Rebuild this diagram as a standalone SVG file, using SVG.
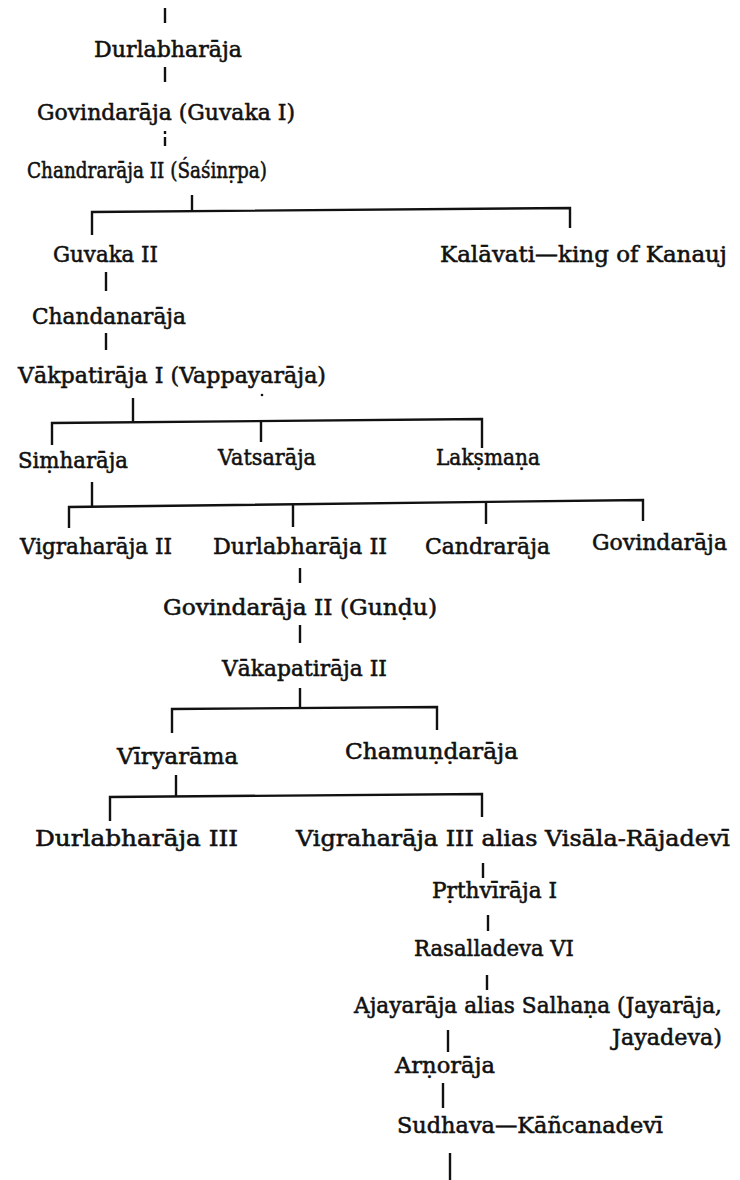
<svg xmlns="http://www.w3.org/2000/svg" width="740" height="1180" viewBox="0 0 740 1180">
  <style>
    .bg { fill: #ffffff; }
    .lbl { font-family: "DejaVu Serif", "Liberation Serif", serif; font-size: 22px; fill: #111111; stroke: #111111; stroke-width: 0.55; }
    .ln { stroke: #111111; stroke-width: 2.4; fill: none; stroke-linecap: butt; }
  </style>
  <rect class="bg" x="0" y="0" width="740" height="1180"/>

  <!-- connectors -->
  <g id="connectors">
    <path class="ln" d="M165 8 V23"/>
    <path class="ln" d="M165 67 V82"/>
    <path class="ln" d="M165 131 V134 M165 137 V146"/>
    <path class="ln" d="M192 195 V211"/>
    <path class="ln" d="M92 235 V212 L570 208 V228"/>
    <path class="ln" d="M106 272 V291"/>
    <path class="ln" d="M106 333 V350"/>
    <path class="ln" d="M133 398 V422"/>
    <path class="ln" d="M52 445 V423 L482 419 V448"/>
    <path class="ln" d="M261 421 V442"/>
    <path class="ln" d="M92 482 V507"/>
    <path class="ln" d="M69 528 V507 L643 500 V521"/>
    <path class="ln" d="M293 505 V527"/>
    <path class="ln" d="M486 502 V524"/>
    <path class="ln" d="M300 568 V583"/>
    <path class="ln" d="M300 625 V643"/>
    <path class="ln" d="M300 688 V708"/>
    <path class="ln" d="M172 733 V709 L437 707 V730"/>
    <path class="ln" d="M176 775 V796"/>
    <path class="ln" d="M110 821 V797 L482 794 V817"/>
    <path class="ln" d="M483 863 V878"/>
    <path class="ln" d="M488 915 V931"/>
    <path class="ln" d="M487 975 V990"/>
    <path class="ln" d="M448 1030 V1052"/>
    <path class="ln" d="M443 1083 V1108"/>
    <path class="ln" d="M450 1153 V1180"/>
  </g>

  <!-- stray dot printed below Vappayarāja -->
  <circle cx="262" cy="395" r="1.3" fill="#111111"/>

  <g id="n-durlabharaja"><text class="lbl" x="94" y="57" textLength="148" lengthAdjust="spacingAndGlyphs">Durlabharāja</text></g>
  <g id="n-govindaraja"><text class="lbl" x="37" y="120" textLength="258" lengthAdjust="spacingAndGlyphs">Govindarāja (Guvaka I)</text></g>
  <g id="n-chandraraja2"><text class="lbl" x="27" y="178" textLength="240" lengthAdjust="spacingAndGlyphs">Chandrarāja II (Śaśinṛpa)</text></g>
  <g id="n-guvaka2"><text class="lbl" x="53" y="262" textLength="105" lengthAdjust="spacingAndGlyphs">Guvaka II</text></g>
  <g id="n-kalavati"><text class="lbl" x="440" y="262" textLength="287" lengthAdjust="spacingAndGlyphs">Kalāvati—king of Kanauj</text></g>
  <g id="n-chandanaraja"><text class="lbl" x="32" y="324" textLength="154" lengthAdjust="spacingAndGlyphs">Chandanarāja</text></g>
  <g id="n-vakpatiraja1"><text class="lbl" x="18" y="383" textLength="308" lengthAdjust="spacingAndGlyphs">Vākpatirāja I (Vappayarāja)</text></g>
  <g id="n-simharaja"><text class="lbl" x="18" y="468" textLength="110" lengthAdjust="spacingAndGlyphs">Siṃharāja</text></g>
  <g id="n-vatsaraja"><text class="lbl" x="218" y="465" textLength="98" lengthAdjust="spacingAndGlyphs">Vatsarāja</text></g>
  <g id="n-laksmana"><text class="lbl" x="436" y="465" textLength="104" lengthAdjust="spacingAndGlyphs">Lakṣmaṇa</text></g>
  <g id="n-vigraharaja2"><text class="lbl" x="20" y="554" textLength="152" lengthAdjust="spacingAndGlyphs">Vigraharāja II</text></g>
  <g id="n-durlabharaja2"><text class="lbl" x="213" y="554" textLength="174" lengthAdjust="spacingAndGlyphs">Durlabharāja II</text></g>
  <g id="n-candraraja"><text class="lbl" x="425" y="554" textLength="125" lengthAdjust="spacingAndGlyphs">Candrarāja</text></g>
  <g id="n-govindaraja-b"><text class="lbl" x="592" y="550" textLength="135" lengthAdjust="spacingAndGlyphs">Govindarāja</text></g>
  <g id="n-govindaraja2"><text class="lbl" x="163" y="615" textLength="274" lengthAdjust="spacingAndGlyphs">Govindarāja II (Gunḍu)</text></g>
  <g id="n-vakapatiraja2"><text class="lbl" x="222" y="676" textLength="165" lengthAdjust="spacingAndGlyphs">Vākapatirāja II</text></g>
  <g id="n-viryarama"><text class="lbl" x="117" y="764" textLength="121" lengthAdjust="spacingAndGlyphs">Vīryarāma</text></g>
  <g id="n-chamundaraja"><text class="lbl" x="345" y="759" textLength="173" lengthAdjust="spacingAndGlyphs">Chamuṇḍarāja</text></g>
  <g id="n-durlabharaja3"><text class="lbl" x="35" y="846" textLength="203" lengthAdjust="spacingAndGlyphs">Durlabharāja III</text></g>
  <g id="n-vigraharaja3"><text class="lbl" x="296" y="846" textLength="434" lengthAdjust="spacingAndGlyphs">Vigraharāja III alias Visāla-Rājadevī</text></g>
  <g id="n-prthviraja1"><text class="lbl" x="432" y="898" textLength="125" lengthAdjust="spacingAndGlyphs">Pṛthvīrāja I</text></g>
  <g id="n-rasalladeva"><text class="lbl" x="414" y="956" textLength="160" lengthAdjust="spacingAndGlyphs">Rasalladeva VI</text></g>
  <g id="n-ajayaraja">
    <text class="lbl" x="354" y="1013" textLength="368" lengthAdjust="spacingAndGlyphs">Ajayarāja alias Salhaṇa (Jayarāja,</text>
    <text class="lbl" x="612" y="1045" textLength="110" lengthAdjust="spacingAndGlyphs">Jayadeva)</text>
  </g>
  <g id="n-arnoraja"><text class="lbl" x="395" y="1073" textLength="100" lengthAdjust="spacingAndGlyphs">Arṇorāja</text></g>
  <g id="n-sudhava"><text class="lbl" x="397" y="1133" textLength="266" lengthAdjust="spacingAndGlyphs">Sudhava—Kāñcanadevī</text></g>
</svg>
